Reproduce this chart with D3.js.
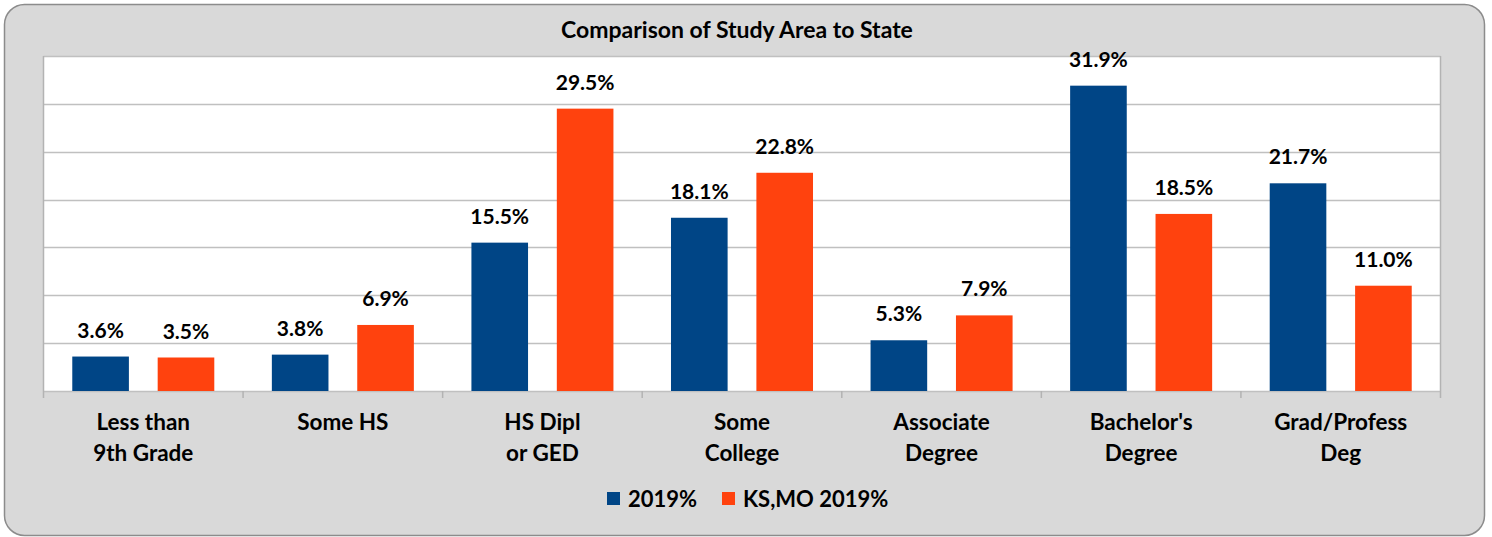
<!DOCTYPE html>
<html>
<head>
<meta charset="utf-8">
<script src="https://cdn.jsdelivr.net/npm/d3@7"></script>
<style>
  body { margin: 0; background: #fff; }
  svg text { font-family: Lato, "Open Sans", sans-serif; font-weight: 700; fill: #000; }
</style>
</head>
<body>
<div id="chart"></div>
<script>
const categories = [
  ["Less than", "9th Grade"],
  ["Some HS"],
  ["HS Dipl", "or GED"],
  ["Some", "College"],
  ["Associate", "Degree"],
  ["Bachelor's", "Degree"],
  ["Grad/Profess", "Deg"]
];
const seriesNames = ["2019%", "KS,MO 2019%"];
const studyArea = [3.6, 3.8, 15.5, 18.1, 5.3, 31.9, 21.7];
const stateVals = [3.5, 6.9, 29.5, 22.8, 7.9, 18.5, 11.0];
const gridTicks = [0, 5, 10, 15, 20, 25, 30, 35];

const W = 1492, H = 537;
const plot = { left: 43.5, right: 1440.5, top: 56, bottom: 391 };
const color = d3.scaleOrdinal().domain(seriesNames).range(["#004586", "#ff420e"]);

const svg = d3.select("#chart").append("svg")
  .attr("width", W)
  .attr("height", H);

// outer frame
svg.append("rect")
  .attr("x", 4.5).attr("y", 4.5)
  .attr("width", 1480).attr("height", 531)
  .attr("rx", 20).attr("ry", 20)
  .attr("fill", "#d9d9d9")
  .attr("stroke", "#8c8c8c")
  .attr("stroke-width", 1.5);

svg.append("text")
  .attr("x", 737).attr("y", 38)
  .attr("text-anchor", "middle")
  .style("font-size", "23px")
  .text("Comparison of Study Area to State");

const catIdx = categories.map((d, i) => i);
const x0 = d3.scaleBand().domain(catIdx).range([plot.left, plot.right]).padding(0);
const x1 = d3.scaleBand().domain(seriesNames).range([0, x0.bandwidth()]).padding(0.337);
const y = d3.scaleLinear().domain([0, 35]).range([plot.bottom, plot.top]);

svg.append("rect")
  .attr("x", plot.left).attr("y", plot.top)
  .attr("width", plot.right - plot.left).attr("height", plot.bottom - plot.top)
  .attr("fill", "#fff");

// gridlines
svg.append("g")
  .selectAll("line")
  .data(gridTicks)
  .join("line")
  .attr("x1", plot.left).attr("x2", plot.right)
  .attr("y1", d => Math.round(y(d)) + 0.5)
  .attr("y2", d => Math.round(y(d)) + 0.5)
  .attr("stroke", "#c0c0c0")
  .attr("stroke-width", 1.5);

// left and right borders
svg.append("g")
  .selectAll("line")
  .data([plot.left, plot.right])
  .join("line")
  .attr("x1", d => d).attr("x2", d => d)
  .attr("y1", plot.top).attr("y2", plot.bottom + 7)
  .attr("stroke", "#b3b3b3")
  .attr("stroke-width", 1.5);

// category tick marks
svg.append("g")
  .selectAll("line")
  .data(catIdx.slice(1))
  .join("line")
  .attr("x1", d => x0(d)).attr("x2", d => x0(d))
  .attr("y1", plot.bottom).attr("y2", plot.bottom + 7)
  .attr("stroke", "#b3b3b3")
  .attr("stroke-width", 1.5);

const rows = catIdx.map(i => [
  { key: seriesNames[0], value: studyArea[i], cat: i },
  { key: seriesNames[1], value: stateVals[i], cat: i }
]);

const groups = svg.selectAll("g.layer")
  .data(rows)
  .join("g")
  .attr("class", "layer")
  .attr("transform", (d, i) => `translate(${x0(i)},0)`);

groups.selectAll("rect")
  .data(d => d)
  .join("rect")
  .attr("x", d => x1(d.key))
  .attr("y", d => y(d.value))
  .attr("width", x1.bandwidth())
  .attr("height", d => y(0) - y(d.value))
  .attr("fill", d => color(d.key));

groups.selectAll("text")
  .data(d => d)
  .join("text")
  .attr("x", d => x1(d.key) + x1.bandwidth() / 2)
  .attr("y", d => y(d.value) - 19)
  .attr("text-anchor", "middle")
  .style("font-size", "21px")
  .text(d => d.value.toFixed(1) + "%");

// category labels
const catLabels = svg.append("g")
  .selectAll("text")
  .data(categories)
  .join("text")
  .attr("x", (d, i) => x0(i) + x0.bandwidth() / 2)
  .attr("y", 430)
  .attr("text-anchor", "middle")
  .style("font-size", "22.5px");

catLabels.selectAll("tspan")
  .data(d => d)
  .join("tspan")
  .attr("x", function () { return this.parentNode.getAttribute("x"); })
  .attr("dy", (d, i) => i === 0 ? 0 : 31)
  .text(d => d);

// legend
const legendX = [607, 722];
const legend = svg.selectAll(".legend")
  .data(seriesNames)
  .join("g")
  .attr("class", "legend")
  .attr("transform", (d, i) => `translate(${legendX[i]}, 492)`);

legend.append("rect")
  .attr("width", 13).attr("height", 13)
  .attr("fill", d => color(d));

legend.append("text")
  .attr("x", 21).attr("y", 15)
  .style("font-size", "22px")
  .text(d => d);
</script>
</body>
</html>
